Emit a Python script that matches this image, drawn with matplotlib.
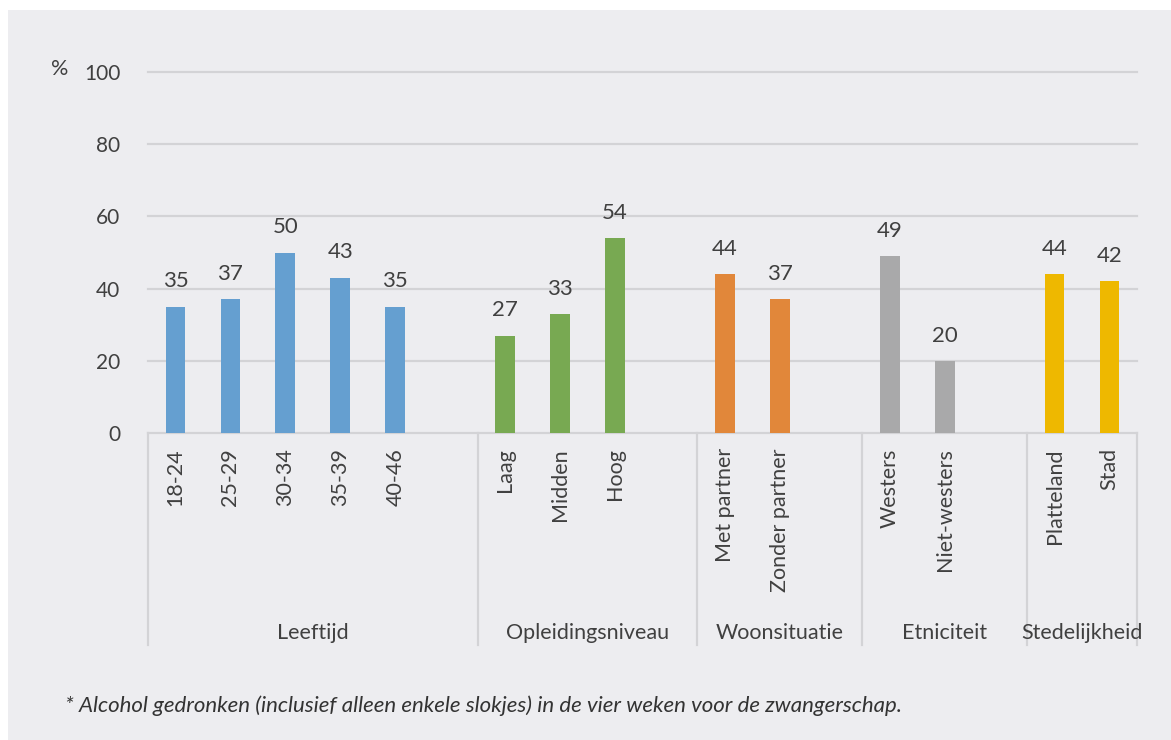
import matplotlib
matplotlib.use("Agg")
import matplotlib.pyplot as plt
from matplotlib.patches import Rectangle
from matplotlib.transforms import blended_transform_factory

plt.rcParams['font.family'] = ['Lato', 'DejaVu Sans']

# data
groups = ['Leeftijd', 'Opleidingsniveau', 'Woonsituatie', 'Etniciteit', 'Stedelijkheid']
group_cats = [
    ['18-24', '25-29', '30-34', '35-39', '40-46'],
    ['Laag', 'Midden', 'Hoog'],
    ['Met partner', 'Zonder partner'],
    ['Westers', 'Niet-westers'],
    ['Platteland', 'Stad'],
]
group_vals = [
    [35, 37, 50, 43, 35],
    [27, 33, 54],
    [44, 37],
    [49, 20],
    [44, 42],
]
group_slots = [6, 4, 3, 3, 2]   # incl. empty slot at end of group
colors = ['#659FD0', '#78A952', '#E1873A', '#A9A9AA', '#EEB800']
yticks = [0, 20, 40, 60, 80, 100]
footnote = '* Alcohol gedronken (inclusief alleen enkele slokjes) in de vier weken voor de zwangerschap.'

W, H = 1171, 740
bg = '#EDEDF0'
grid_c = '#D3D3D6'
txt_c = '#404040'

fig = plt.figure(figsize=(W / 100, H / 100), dpi=100)
fig.patch.set_facecolor('white')
fig.patches.append(Rectangle((8 / W, 0), 1 - 8 / W, 1 - 10 / H, transform=fig.transFigure,
                             facecolor=bg, edgecolor='none', zorder=-10))

ax = fig.add_axes([148 / W, 1 - 433 / H, (1137 - 148) / W, (433 - 72) / H])
ax.set_facecolor('none')
total = sum(group_slots)
ax.set_xlim(-0.5, total - 0.5)
ax.set_ylim(0, 100)

for s in ax.spines.values():
    s.set_visible(False)
ax.set_yticks(yticks)
ax.set_yticklabels([str(t) for t in yticks], fontsize=15, color=txt_c)
ax.tick_params(axis='y', length=0, pad=20)
ax.set_xticks([])
for t in yticks:
    ax.axhline(t, color=grid_c, lw=1.6, zorder=0, clip_on=False)

tr = blended_transform_factory(ax.transData, ax.transAxes)
start = 0
for g, cats, vals, n, c in zip(groups, group_cats, group_vals, group_slots, colors):
    xs = list(range(start, start + len(cats)))
    ax.bar(xs, vals, width=0.36, color=c, zorder=2)
    for x, v, cat in zip(xs, vals, cats):
        ax.text(x, v + 7, str(v), ha='center', va='center', fontsize=16, color=txt_c)
        ax.text(x, -0.042, cat, transform=tr, rotation=90, ha='center', va='top',
                fontsize=15.5, color=txt_c)
    ax.text(start + (n - 1) / 2, -0.553, g, transform=tr, ha='center', va='center',
            fontsize=15.5, color=txt_c)
    ax.plot([start - 0.5, start - 0.5], [0, -0.587], transform=tr, color=grid_c,
            lw=1.6, clip_on=False)
    start += n
ax.plot([start - 0.5, start - 0.5], [0, -0.587], transform=tr, color=grid_c,
        lw=1.6, clip_on=False)

fig.text(60 / W, 1 - 69 / H, '%', ha='center', va='center', fontsize=15.5, color=txt_c)
fig.text(65 / W, 1 - 706 / H, footnote, ha='left', va='center', fontsize=16,
         style='italic', color='#333333')

fig.savefig('out.png', dpi=100, facecolor=fig.get_facecolor())
